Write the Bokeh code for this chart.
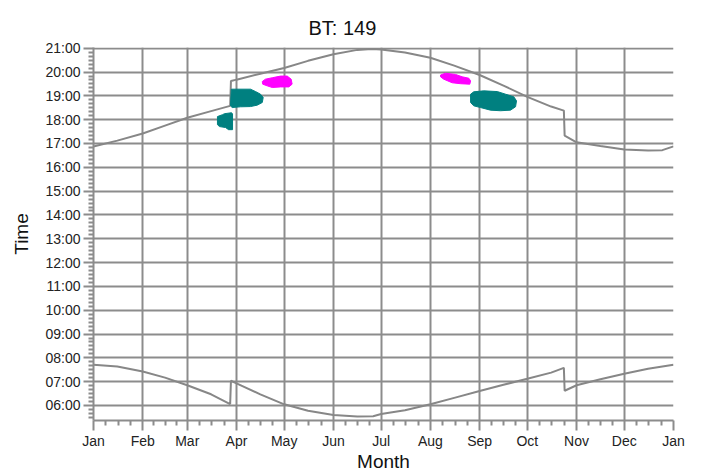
from bokeh.plotting import figure
from bokeh.models import FixedTicker, Range1d
from bokeh.embed import file_html
from bokeh.resources import INLINE

# ---- data ----
month_days = [0, 31, 59, 90, 120, 151, 181, 212, 243, 273, 304, 334, 365]
month_labels = ["Jan", "Feb", "Mar", "Apr", "May", "Jun", "Jul", "Aug", "Sep", "Oct", "Nov", "Dec", "Jan"]
hour_ticks = list(range(6, 22))
hour_labels = ["%02d:00" % h for h in hour_ticks]

sunset_day = [0, 15, 31, 45, 59, 74, 86, 86.5, 90, 105, 120, 135, 151, 166, 175, 181, 196, 212,
              227, 243, 258, 273, 288, 296, 296.5, 304, 319, 334, 349, 358, 365]
sunset_hr = [16.87, 17.12, 17.42, 17.75, 18.08, 18.36, 18.58, 19.62, 19.68, 19.93, 20.17, 20.47,
             20.75, 20.93, 20.97, 20.95, 20.82, 20.60, 20.27, 19.875, 19.43, 18.96, 18.55, 18.38,
             17.33, 17.05, 16.89, 16.75, 16.71, 16.72, 16.88]

sunrise_day = [0, 15, 31, 45, 59, 74, 86, 86.5, 90, 105, 120, 135, 151, 166, 176, 181, 196, 212,
               227, 243, 258, 273, 288, 296, 296.5, 304, 319, 334, 349, 365]
sunrise_hr = [7.71, 7.64, 7.43, 7.17, 6.85, 6.47, 6.06, 7.04, 6.93, 6.47, 6.05, 5.78, 5.60, 5.54,
              5.55, 5.64, 5.80, 6.05, 6.32, 6.61, 6.87, 7.12, 7.38, 7.58, 6.62, 6.85, 7.10, 7.33,
              7.54, 7.71]

# detection clusters (outline in day-of-year / hour)
teal_a_day = [78.0, 81.2, 82.4, 86.8, 87.5, 87.5, 85.0, 83.1, 79.3, 78.0]
teal_a_hr = [18.13, 18.21, 18.25, 18.29, 18.25, 17.58, 17.58, 17.67, 17.71, 17.79]
teal_b_day = [86.7, 98.8, 102.0, 105.1, 106.8, 106.2, 103.0, 98.8, 92.5, 87.3, 86.2]
teal_b_hr = [19.28, 19.28, 19.18, 19.07, 18.93, 18.72, 18.61, 18.55, 18.54, 18.51, 18.58]
teal_c_day = [237.3, 239.3, 245.6, 254.1, 259.3, 264.5, 266.2, 265.6, 262.4, 256.1, 249.8, 243.5, 239.3, 237.3]
teal_c_hr = [19.07, 19.17, 19.21, 19.18, 19.07, 18.96, 18.79, 18.54, 18.40, 18.375, 18.40, 18.51, 18.58, 18.72]
mag_a_day = [106.2, 108.2, 112.5, 117.7, 121.9, 124.4, 125.0, 122.9, 117.7, 112.5, 109.3, 106.5]
mag_a_hr = [19.60, 19.70, 19.76, 19.83, 19.83, 19.70, 19.49, 19.375, 19.375, 19.35, 19.42, 19.49]
mag_b_day = [218.4, 221.5, 227.8, 232.0, 236.2, 237.3, 236.8, 231.0, 225.7, 220.4, 218.4]
mag_b_hr = [19.875, 19.95, 19.90, 19.80, 19.74, 19.625, 19.49, 19.51, 19.55, 19.70, 19.80]

GRID = "#8c8c8c"
LINE = "#878787"
TEAL = "#008080"
MAG = "#ff00ff"
FONT = "Liberation Sans"

p = figure(width=693, height=474, output_backend="svg", toolbar_location=None,
           x_range=Range1d(0, 365), y_range=Range1d(5.37, 21.03),
           min_border_left=93, min_border_right=20, min_border_top=47, min_border_bottom=0)
p.outline_line_color = None
p.background_fill_color = "white"

p.title.text = "BT: 149"
p.title.text_font = FONT
p.title.text_font_size = "20px"
p.title.text_font_style = "normal"
p.title.text_color = "#111111"
p.title.align = "left"
p.title.offset = 215
p.title.standoff = 18

# ticks
x_minor = []
for i in range(12):
    a, b = month_days[i], month_days[i + 1]
    x_minor += [a + (b - a) * k / 4 for k in range(1, 4)]
y_minor = [h + m / 6 for h in range(5, 21) for m in range(1, 6) if h + m / 6 > 5.37]

p.xaxis.ticker = FixedTicker(ticks=month_days, minor_ticks=x_minor)
p.xaxis.major_label_overrides = {d: l for d, l in zip(month_days, month_labels)}
p.yaxis.ticker = FixedTicker(ticks=hour_ticks, minor_ticks=y_minor)
p.yaxis.major_label_overrides = {h: l for h, l in zip(hour_ticks, hour_labels)}

for ax in (p.xaxis[0], p.yaxis[0]):
    ax.axis_line_color = GRID
    ax.axis_line_width = 2
    ax.major_tick_line_color = GRID
    ax.minor_tick_line_color = GRID
    ax.major_tick_line_width = 2
    ax.minor_tick_line_width = 2
    ax.major_tick_out = 10
    ax.major_tick_in = 0
    ax.minor_tick_out = 5
    ax.minor_tick_in = 0
    ax.major_label_text_font = FONT
    ax.major_label_text_font_size = "14px"
    ax.major_label_text_color = "#222222"
    ax.axis_label_text_font = FONT
    ax.axis_label_text_font_size = "19px"
    ax.axis_label_text_font_style = "normal"
    ax.axis_label_text_color = "#111111"

p.xaxis.axis_label = "Month"
p.yaxis.axis_label = "Time"
p.xaxis.major_label_standoff = 2
p.yaxis.major_label_standoff = 3
p.xaxis.axis_label_standoff = -1
p.yaxis.axis_label_standoff = 10

p.xgrid.ticker = FixedTicker(ticks=month_days[:-1])
p.ygrid.ticker = FixedTicker(ticks=hour_ticks)
for g in (p.xgrid[0], p.ygrid[0]):
    g.grid_line_color = GRID
    g.grid_line_width = 2

p.line(sunset_day, sunset_hr, line_color=LINE, line_width=2)
p.line(sunrise_day, sunrise_hr, line_color=LINE, line_width=2)

p.patches([teal_a_day, teal_b_day, teal_c_day], [teal_a_hr, teal_b_hr, teal_c_hr],
          fill_color=TEAL, line_color=TEAL, line_width=1)
p.patches([mag_a_day, mag_b_day], [mag_a_hr, mag_b_hr],
          fill_color=MAG, line_color=MAG, line_width=1)

open("out.html", "w").write(file_html(p, INLINE))
